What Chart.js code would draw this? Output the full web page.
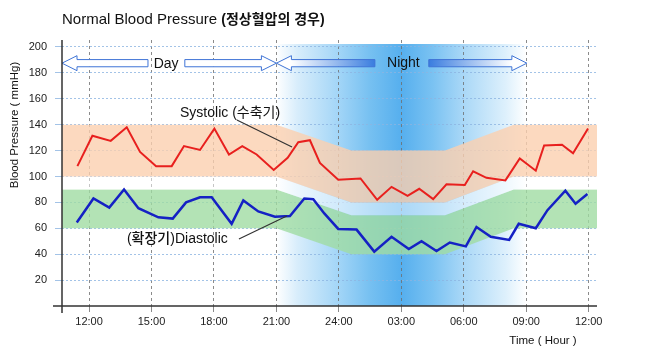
<!DOCTYPE html>
<html lang="ko">
<head>
    <meta charset="UTF-8">
    <title>Normal Blood Pressure</title>
    <style>
        body {
            margin: 0;
            padding: 0;
            background: #fff;
        }
        #bpChart {
            display: block;
        }
    </style>
</head>
<body>
    <canvas id="bpChart" width="667" height="363"></canvas>

    <script src="https://cdn.jsdelivr.net/npm/chart.js"></script>
    <script>
        // Time axis in hours from noon (12 = 12:00, 24 = midnight, 36 = next noon)
        const tickHours = [12, 15, 18, 21, 24, 27, 30, 33, 36];
        const tickLabels = ['12:00', '15:00', '18:00', '21:00', '24:00', '03:00', '06:00', '09:00', '12:00'];
        const yTicks = [20, 40, 60, 80, 100, 120, 140, 160, 180, 200];

        // Systolic readings
        const sysHours = [11.44, 12.16, 13.04, 13.81, 14.45, 15.22, 15.97, 16.56, 17.33, 18.02, 18.72, 19.36,
            20.05, 20.87, 21.54, 22.05, 22.61, 23.09, 23.97, 25.04, 25.84, 26.53, 27.30, 27.86,
            28.53, 29.17, 30.05, 30.45, 31.09, 32.00, 32.69, 33.46, 33.86, 34.72, 35.25, 35.97];
        const sysValues = [108, 131.5, 127.5, 138, 119, 108, 108, 123.5, 120.5, 137, 117, 123.5,
            117, 105, 114.5, 126.5, 128, 110.5, 97.5, 98.5, 82, 92, 85, 90.5,
            82.5, 94, 93.5, 104, 99, 97, 114, 104.5, 124, 124.5, 118, 137];

        // Diastolic readings
        const diaHours = [11.41, 12.21, 12.97, 13.68, 14.37, 15.33, 16.02, 16.66, 17.33, 17.89, 18.85, 19.41,
            20.13, 20.93, 21.65, 22.34, 22.77, 23.30, 23.97, 24.85, 25.70, 26.53, 27.36, 27.97,
            28.69, 29.33, 30.10, 30.61, 31.30, 32.18, 32.64, 33.46, 34.02, 34.88, 35.37, 35.94];
        const diaValues = [64.5, 83, 76, 90, 75.5, 68.5, 67.5, 80, 84, 84, 63.5, 81.5,
            73, 69, 69.5, 83, 82.5, 71.5, 59.5, 59, 42, 53.5, 44, 50,
            42.5, 49, 46, 61, 53.5, 51, 63.5, 60, 74, 89, 79, 86.5];

        // Normal ranges (day / night dip)
        const bandHours = [10.7, 21, 24.6, 29.1, 32.4, 36.4];
        const sysBandHigh = [140, 140, 120, 120, 140, 140];
        const sysBandLow = [100, 100, 80, 80, 100, 100];
        const diaBandHigh = [90, 90, 70, 70, 90, 90];
        const diaBandLow = [60, 60, 40, 40, 60, 60];

        const xMin = 10.7, xMax = 36.4, yMax = 205.4;
        const nightStart = 21, nightEnd = 33;

        const FONT = "'Liberation Sans', 'Noto Sans CJK KR', Arial, sans-serif";
        Chart.defaults.font.family = FONT;
        Chart.defaults.color = '#222';

        function pts(xs, ys) {
            return xs.map((h, i) => ({ x: h, y: ys[i] }));
        }

        function arrowHalf(ctx, tipX, endX, cy, fill) {
            const dir = endX > tipX ? 1 : -1;
            const hl = 15, hh = 7.5, sh = 3.6;
            ctx.beginPath();
            ctx.moveTo(tipX, cy);
            ctx.lineTo(tipX + dir * hl, cy - hh);
            ctx.lineTo(tipX + dir * hl, cy - sh);
            ctx.lineTo(endX, cy - sh);
            ctx.lineTo(endX, cy + sh);
            ctx.lineTo(tipX + dir * hl, cy + sh);
            ctx.lineTo(tipX + dir * hl, cy + hh);
            ctx.closePath();
            ctx.fillStyle = fill;
            ctx.fill();
            ctx.strokeStyle = '#3f74d6';
            ctx.lineWidth = 1;
            ctx.stroke();
        }

        function shaftGradient(ctx, fromX, toX) {
            const g = ctx.createLinearGradient(fromX, 0, toX, 0);
            g.addColorStop(0, '#ffffff');
            g.addColorStop(1, '#3a7ddf');
            return g;
        }

        const decorPlugin = {
            id: 'decor',
            beforeDraw(chart) {
                // night background
                const { ctx, chartArea, scales: { x } } = chart;
                const x0 = x.getPixelForValue(nightStart);
                const x1 = x.getPixelForValue(nightEnd);
                const g = ctx.createLinearGradient(x0, 0, x1, 0);
                const stops = [[21, 'rgba(255,255,255,1)'], [22, '#d8edfb'], [24, '#a2d5f7'], [25.5, '#76c0f1'],
                    [27, '#56afee'], [28.5, '#7ac2f2'], [30, '#aad8f7'], [32, '#ddf0fc'], [33, 'rgba(255,255,255,1)']];
                stops.forEach(([h, c]) => g.addColorStop((h - nightStart) / (nightEnd - nightStart), c));
                ctx.save();
                ctx.fillStyle = g;
                ctx.fillRect(x0, chartArea.top + 4, x1 - x0, chartArea.bottom - chartArea.top - 4);
                ctx.restore();
            },
            afterDatasetsDraw(chart) {
                const { ctx, scales: { x, y } } = chart;
                const px = h => x.getPixelForValue(h);
                const py = v => y.getPixelForValue(v);
                ctx.save();

                // Day / Night arrows
                const ay = py(187.5);
                arrowHalf(ctx, px(xMin), px(14.83), ay, '#ffffff');
                arrowHalf(ctx, px(21), px(16.6), ay, '#ffffff');
                arrowHalf(ctx, px(21), px(25.73), ay, shaftGradient(ctx, px(21) + 15, px(25.73)));
                arrowHalf(ctx, px(33.03), px(28.32), ay, shaftGradient(ctx, px(33.03) - 15, px(28.32)));

                ctx.fillStyle = '#111';
                ctx.font = '14px ' + FONT;
                ctx.textAlign = 'center';
                ctx.textBaseline = 'middle';
                ctx.fillText('Day', px(15.7), ay + 1);
                ctx.fillText('Night', px(27.1), ay);

                // leader lines
                ctx.strokeStyle = '#333';
                ctx.lineWidth = 1.2;
                ctx.beginPath();
                ctx.moveTo(px(19.1), py(143.6));
                ctx.lineTo(px(21.75), py(122.8));
                ctx.moveTo(px(19.2), py(51.7));
                ctx.lineTo(px(21.5), py(69.5));
                ctx.stroke();

                // labels
                ctx.textAlign = 'left';
                ctx.font = '14px ' + FONT;
                ctx.fillText('Systolic (수축기)', px(16.37), py(149));

                ctx.font = '500 14px ' + FONT;
                ctx.fillText('(확장기)', px(13.82), py(51.7));
                const w = ctx.measureText('(확장기)').width;
                ctx.font = '14px ' + FONT;
                ctx.fillText('Diastolic', px(13.82) + w, py(51.7));
                ctx.restore();
            },
            afterDraw(chart) {
                const { ctx, chartArea } = chart;
                ctx.save();
                // axis lines (extend past the crossing)
                ctx.strokeStyle = '#333';
                ctx.lineWidth = 1.5;
                ctx.beginPath();
                ctx.moveTo(chartArea.left - 9, chartArea.bottom);
                ctx.lineTo(chartArea.right, chartArea.bottom);
                ctx.moveTo(chartArea.left, chartArea.top);
                ctx.lineTo(chartArea.left, chartArea.bottom + 7);
                ctx.stroke();

                // chart title
                ctx.fillStyle = '#111';
                ctx.textBaseline = 'middle';
                ctx.textAlign = 'left';
                ctx.font = '15px ' + FONT;
                ctx.fillText('Normal Blood Pressure ', 62, 20);
                const w = ctx.measureText('Normal Blood Pressure ').width;
                ctx.font = 'bold 14px ' + FONT;
                ctx.fillText('(정상혈압의 경우)', 62 + w, 20);

                // axis titles
                ctx.font = '11.5px ' + FONT;
                ctx.textAlign = 'center';
                ctx.fillText('Time ( Hour )', 543, 341);
                ctx.translate(15, 125);
                ctx.rotate(-Math.PI / 2);
                ctx.fillText('Blood Pressure ( mmHg)', 0, 0);
                ctx.restore();
            }
        };

        const bandBase = { pointRadius: 0, borderWidth: 0, tension: 0, order: 5 };

        new Chart(document.getElementById('bpChart'), {
            type: 'line',
            data: {
                datasets: [
                    {
                        label: 'Systolic',
                        data: pts(sysHours, sysValues),
                        borderColor: '#e8201e',
                        borderWidth: 2,
                        pointRadius: 0,
                        tension: 0,
                        fill: false,
                        order: 0
                    },
                    {
                        label: 'Diastolic',
                        data: pts(diaHours, diaValues),
                        borderColor: '#1521c4',
                        borderWidth: 2.5,
                        pointRadius: 0,
                        tension: 0,
                        fill: false,
                        order: 0
                    },
                    { ...bandBase, data: pts(bandHours, sysBandHigh), fill: '+1', backgroundColor: 'rgba(251,208,175,0.8)' },
                    { ...bandBase, data: pts(bandHours, sysBandLow), fill: '+1', backgroundColor: 'rgba(255,255,255,0.5)' },
                    { ...bandBase, data: pts(bandHours, diaBandHigh), fill: '+1', backgroundColor: 'rgba(160,220,162,0.8)' },
                    { ...bandBase, data: pts(bandHours, diaBandLow), fill: false }
                ]
            },
            options: {
                responsive: false,
                animation: false,
                devicePixelRatio: 1,
                layout: {
                    padding: { left: 0, right: 70, top: 40, bottom: 0 }
                },
                plugins: {
                    legend: { display: false },
                    tooltip: { enabled: false }
                },
                scales: {
                    x: {
                        type: 'linear',
                        min: xMin,
                        max: xMax,
                        z: 1,
                        afterFit: scale => { scale.height = 57; },
                        afterBuildTicks: scale => { scale.ticks = tickHours.map(v => ({ value: v })); },
                        ticks: {
                            autoSkip: false,
                            maxRotation: 0,
                            padding: 3,
                            font: { size: 11 },
                            color: '#222',
                            callback: value => tickLabels[tickHours.indexOf(value)]
                        },
                        grid: {
                            color: 'rgba(110,110,110,0.8)',
                            lineWidth: 1,
                            tickLength: 6
                        },
                        border: { display: false, dash: [3, 3] }
                    },
                    y: {
                        min: 0,
                        max: yMax,
                        z: 1,
                        afterFit: scale => { scale.width = 62; },
                        afterBuildTicks: scale => { scale.ticks = yTicks.map(v => ({ value: v })); },
                        ticks: {
                            padding: 8,
                            font: { size: 11 },
                            color: '#222'
                        },
                        grid: {
                            color: 'rgba(140,180,225,0.8)',
                            lineWidth: 1,
                            tickLength: 7
                        },
                        border: { display: false, dash: [2, 2] }
                    }
                }
            },
            plugins: [decorPlugin]
        });
    </script>
</body>
</html>
